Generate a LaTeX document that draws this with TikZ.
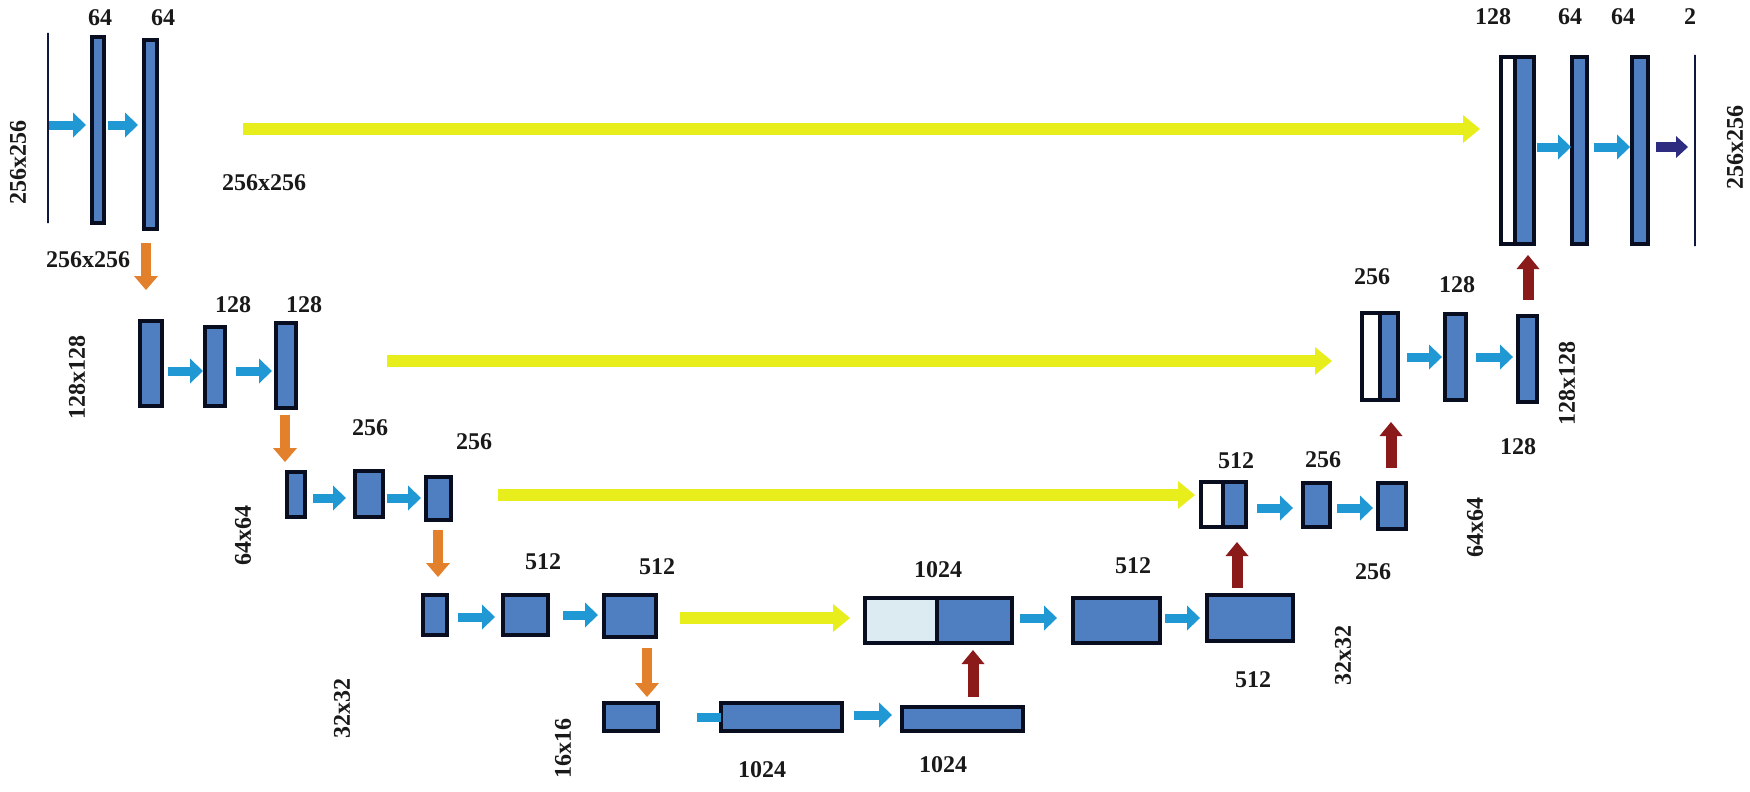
\documentclass[tikz,border=0pt]{standalone}
\usepackage{fontspec}
\setmainfont{Liberation Serif}
\usetikzlibrary{arrows.meta}
\definecolor{boxblue}{RGB}{79,127,192}
\definecolor{boxline}{RGB}{8,14,32}
\definecolor{lightc}{RGB}{220,234,242}
\definecolor{ablue}{RGB}{32,152,212}
\definecolor{ayellow}{RGB}{232,238,28}
\definecolor{aorange}{RGB}{226,128,44}
\definecolor{ared}{RGB}{139,26,26}
\definecolor{anavy}{RGB}{46,44,128}
\definecolor{lineblue}{RGB}{16,24,64}
\tikzset{
 box/.style={draw=boxline, fill=boxblue, line width=3.5pt, inner sep=0pt, outer sep=0pt, rectangle},
 wbox/.style={box, fill=white},
 lbox/.style={box, fill=lightc},
 ioline/.style={draw=lineblue, line width=2.5pt, inner sep=0pt, outer sep=0pt, minimum width=0pt, rectangle},
 lab/.style={font=\fontsize{24}{24}\selectfont\bfseries, inner sep=0pt, text=black!90},
 rlab/.style={lab, rotate=90},
 barrow/.style={draw=ablue, line width=9pt, -{Triangle[length=13pt,width=25pt,line width=0pt]}},
 yarrow/.style={draw=ayellow, line width=12pt, -{Triangle[length=17pt,width=28pt,line width=0pt]}},
 oarrow/.style={draw=aorange, line width=10pt, -{Triangle[length=14pt,width=24pt,line width=0pt]}},
 rarrow/.style={draw=ared, line width=11pt, -{Triangle[length=14pt,width=23pt,line width=0pt]}},
 narrow/.style={draw=anavy, line width=10pt, -{Triangle[length=12pt,width=22pt,line width=0pt]}},
}
\newcommand{\ubox}[6][box]{\node[#1, minimum width={#5-#3}, minimum height={#6-#4}] (#2) at ({(#3+#5)/2},{(#4+#6)/2}) {};}
\begin{document}
\begin{tikzpicture}[x=1pt,y=-1pt]
\useasboundingbox (0,0) rectangle (1750,792);
% ---------- level 1 left
\node[ioline, minimum height=190] (in) at (48,128) {};
\ubox{b1}{92}{37}{104}{223}
\ubox{b2}{144}{40}{157}{229}
% ---------- level 2 left
\ubox{A}{140}{321}{162}{406}
\ubox{B}{205}{327}{225}{406}
\ubox{C}{276}{323}{296}{408}
% ---------- level 3 left
\ubox{D}{287}{472}{305}{517}
\ubox{E}{355}{471}{383}{517}
\ubox{F}{426}{477}{451}{520}
% ---------- level 4 left
\ubox{G}{423}{595}{447}{635}
\ubox{H}{503}{595}{548}{635}
\ubox{I}{604}{595}{656}{637}
% ---------- level 5
\ubox{J}{604}{703}{658}{731}
\ubox{K}{721}{703}{842}{731}
\ubox{K2}{902}{707}{1023}{731}
% ---------- level 4 right
\ubox[lbox]{Lw}{865}{598}{937}{643}
\ubox{Lb}{937}{598}{1012}{643}
\ubox{M}{1073}{598}{1160}{643}
\ubox{N}{1207}{595}{1293}{641}
% ---------- level 3 right
\ubox[wbox]{Ow}{1201}{482}{1223}{527}
\ubox{Ob}{1223}{482}{1246}{527}
\ubox{P}{1303}{483}{1330}{527}
\ubox{Q}{1378}{483}{1406}{529}
% ---------- level 2 right
\ubox[wbox]{Rw}{1362}{313}{1380}{400}
\ubox{Rb}{1380}{313}{1398}{400}
\ubox{S}{1445}{314}{1466}{400}
\ubox{T}{1518}{316}{1537}{402}
% ---------- level 1 right
\ubox[wbox]{Uw}{1501}{57}{1515}{244}
\ubox{Ub}{1515}{57}{1534}{244}
\ubox{V}{1572}{57}{1587}{244}
\ubox{W}{1632}{57}{1648}{244}
\node[ioline, minimum height=191] (out) at (1695,150.5) {};
% ---------- labels
\node[lab] (t1) at (100,18) {64};
\node[lab] (t2) at (163,18) {64};
\node[rlab] (t3) at (18,162) {256x256};
\node[lab] (t4) at (88,260) {256x256};
\node[lab] (t5) at (264,183) {256x256};
\node[lab] (t6) at (233,305) {128};
\node[lab] (t7) at (304,305) {128};
\node[rlab] (t8) at (77,377) {128x128};
\node[lab] (t9) at (370,428) {256};
\node[lab] (t10) at (474,442) {256};
\node[rlab] (t11) at (243,535) {64x64};
\node[lab] (t12) at (543,562) {512};
\node[lab] (t13) at (657,567) {512};
\node[rlab] (t14) at (342,708) {32x32};
\node[rlab] (t15) at (563,748) {16x16};
\node[lab] (t16) at (762,770) {1024};
\node[lab] (t17) at (943,765) {1024};
\node[lab] (t18) at (938,570) {1024};
\node[lab] (t19) at (1133,566) {512};
\node[lab] (t20) at (1253,680) {512};
\node[rlab] (t21) at (1343,655) {32x32};
\node[lab] (t22) at (1236,461) {512};
\node[lab] (t23) at (1323,460) {256};
\node[lab] (t24) at (1373,572) {256};
\node[rlab] (t25) at (1475,527) {64x64};
\node[lab] (t26) at (1372,277) {256};
\node[lab] (t27) at (1457,285) {128};
\node[lab] (t28) at (1518,447) {128};
\node[rlab] (t29) at (1567,383) {128x128};
\node[lab] (t30) at (1493,17) {128};
\node[lab] (t31) at (1570,17) {64};
\node[lab] (t32) at (1623,17) {64};
\node[lab] (t33) at (1690,17) {2};
\node[rlab] (t34) at (1735,147) {256x256};
% ---------- skip connections (yellow)
\draw[yarrow, shorten <=86pt, shorten >=21pt] ([yshift=5.5pt]b2.east) -- ([yshift=21.5pt]Uw.west);
\draw[yarrow, shorten <=91pt, shorten >=30pt] ([yshift=4.5pt]C.east) -- ([yshift=-4.5pt]Rw.west);
\draw[yarrow, shorten <=47pt, shorten >=6pt] ([yshift=3.5pt]F.east) -- ([yshift=9.5pt]Ow.west);
\draw[yarrow, shorten <=24pt, shorten >=15pt] ([yshift=-2pt]I.east) -- ([yshift=2.5pt]Lw.west);
% ---------- convolution arrows (blue)
\draw[barrow, shorten <=1pt, shorten >=6pt] ([yshift=3pt]in.east) -- ([yshift=5pt]b1.west);
\draw[barrow, shorten <=4pt, shorten >=6pt] ([yshift=5pt]b1.east) -- ([yshift=9.5pt]b2.west);
\draw[barrow, shorten <=6pt, shorten >=2pt] ([yshift=-7.5pt]A.east) -- ([yshift=-4.5pt]B.west);
\draw[barrow, shorten <=11pt, shorten >=4pt] ([yshift=-4.5pt]B.east) -- ([yshift=-5.5pt]C.west);
\draw[barrow, shorten <=8pt, shorten >=9pt] ([yshift=-3.5pt]D.east) -- ([yshift=-4pt]E.west);
\draw[barrow, shorten <=4pt, shorten >=5pt] ([yshift=-4pt]E.east) -- ([yshift=0.5pt]F.west);
\draw[barrow, shorten <=11pt, shorten >=8pt] ([yshift=-2pt]G.east) -- ([yshift=-2pt]H.west);
\draw[barrow, shorten <=15pt, shorten >=6pt] ([yshift=0pt]H.east) -- ([yshift=1pt]I.west);
\draw[draw=ablue, line width=9pt, shorten <=39pt] (J.east) -- (K.west);
\draw[barrow, shorten <=12pt, shorten >=10pt] ([yshift=2pt]K.east) -- ([yshift=4pt]K2.west);
\draw[barrow, shorten <=8pt, shorten >=16pt] ([yshift=2.5pt]Lb.east) -- ([yshift=2.5pt]M.west);
\draw[barrow, shorten <=5pt, shorten >=7pt] ([yshift=2.5pt]M.east) -- ([yshift=0pt]N.west);
\draw[barrow, shorten <=11pt, shorten >=10pt] ([yshift=-3.5pt]Ob.east) -- ([yshift=-3pt]P.west);
\draw[barrow, shorten <=7pt, shorten >=5pt] ([yshift=-3pt]P.east) -- ([yshift=-2pt]Q.west);
\draw[barrow, shorten <=9pt, shorten >=3pt] ([yshift=-0.5pt]Rb.east) -- ([yshift=0pt]S.west);
\draw[barrow, shorten <=10pt, shorten >=5pt] ([yshift=0pt]S.east) -- ([yshift=2pt]T.west);
\draw[barrow, shorten <=3pt, shorten >=1pt] ([yshift=3.5pt]Ub.east) -- ([yshift=3.5pt]V.west);
\draw[barrow, shorten <=7pt, shorten >=2pt] ([yshift=3.5pt]V.east) -- ([yshift=3.5pt]W.west);
\draw[narrow, shorten <=8pt, shorten >=7pt] ([yshift=3.5pt]W.east) -- ([yshift=3.5pt]out.west);
% ---------- down-sampling (orange)
\draw[oarrow, shorten <=14pt, shorten >=31pt] ([xshift=-4.5pt]b2.south) -- ([xshift=-5pt]A.north);
\draw[oarrow, shorten <=7pt, shorten >=10pt] ([xshift=-1pt]C.south) -- ([xshift=-11pt]D.north);
\draw[oarrow, shorten <=10pt, shorten >=18pt] ([xshift=-0.5pt]F.south) -- ([xshift=3pt]G.north);
\draw[oarrow, shorten <=11pt, shorten >=6pt] ([xshift=17pt]I.south) -- ([xshift=16pt]J.north);
% ---------- up-sampling (red)
\draw[rarrow, shorten <=10pt, shorten >=7pt] ([xshift=10.5pt]K2.north) -- ([xshift=-1.5pt]Lb.south);
\draw[rarrow, shorten <=7pt, shorten >=15pt] ([xshift=-13pt]N.north) -- ([xshift=2.5pt]Ob.south);
\draw[rarrow, shorten <=15pt, shorten >=22pt] ([xshift=-1pt]Q.north) -- ([xshift=2pt]Rb.south);
\draw[rarrow, shorten <=16pt, shorten >=11pt] ([xshift=0.5pt]T.north) -- ([xshift=3.5pt]Ub.south);
\end{tikzpicture}
\end{document}
